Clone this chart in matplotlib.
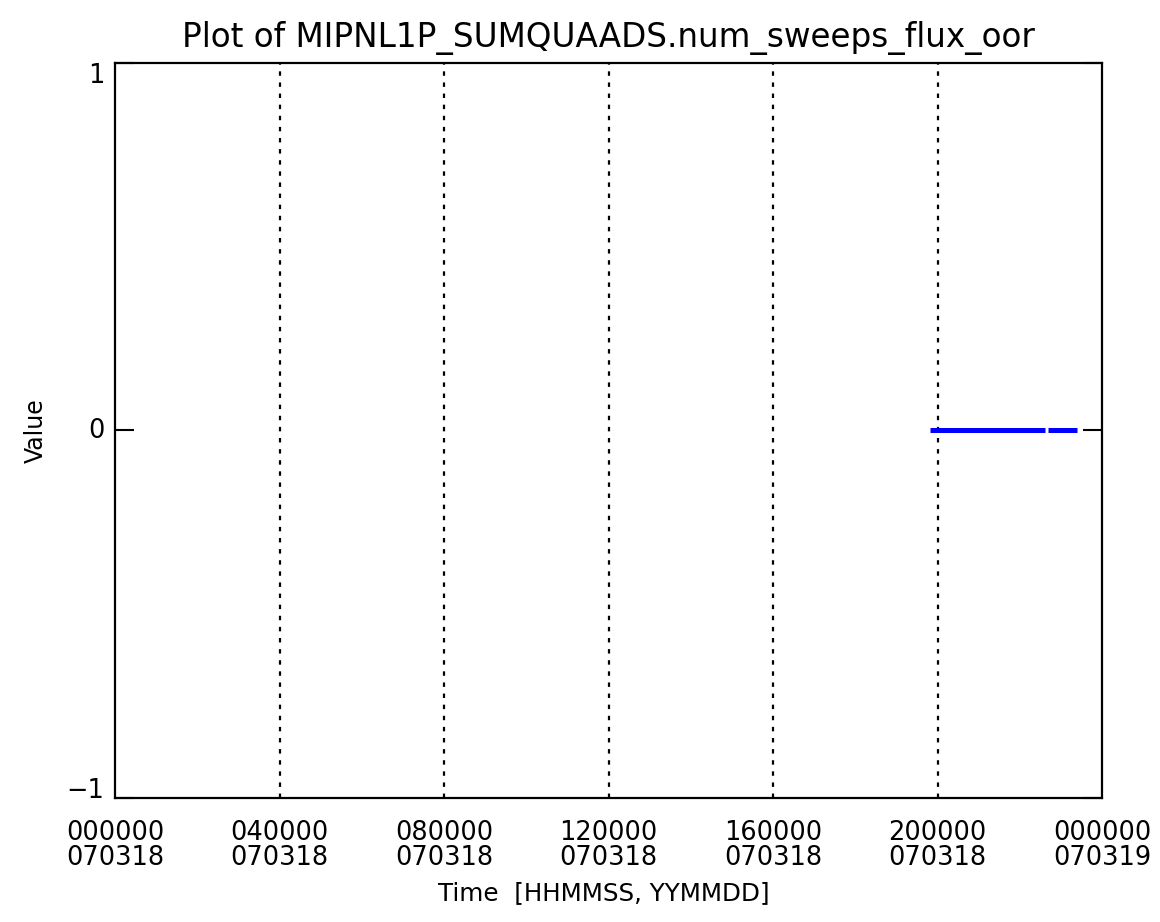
import matplotlib
matplotlib.use("Agg")
import matplotlib.pyplot as plt
from matplotlib.font_manager import FontProperties

# data (hours since 000000 070318)
seg_times = [[19.82, 22.61], [22.69, 23.39]]
seg_values = [[0, 0], [0, 0]]
tick_hours = [0, 4, 8, 12, 16, 20, 24]
tick_labels = ["000000\n070318", "040000\n070318", "080000\n070318", "120000\n070318",
               "160000\n070318", "200000\n070318", "000000\n070319"]
grid_hours = [4, 8, 12, 16, 20]
y_ticks = [-1, 0, 1]
y_ticklabels = ["\u22121", "0", "1"]
title = "Plot of MIPNL1P_SUMQUAADS.num_sweeps_flux_oor"
xlabel = "Time  [HHMMSS, YYMMDD]"
ylabel = "Value"

FAM = 'DejaVu Sans'
plt.rcParams['font.family'] = [FAM]
W, H = 1160, 922
fig = plt.figure(figsize=(W / 100, H / 100), dpi=100)
renderer = fig.canvas.get_renderer()

def metrics(s, size):
    fp = FontProperties(family=FAM, size=size)
    return renderer.get_text_width_height_descent(s, fp, ismath=False)

def fit(s, target_px):
    return 10 * target_px / metrics(s, 10)[0]

# axes box in pixels (left, right, top, bottom)
L, R, T, B = 115, 1102, 63, 798
ax = fig.add_axes([L / W, 1 - B / H, (R - L) / W, (B - T) / H])
px2pt = 72 / 100

title_fs = fit(title, 851)
tick_fs = fit("000000", 97)
xlab_fs = fit(xlabel, 332)
ylab_fs = fit(ylabel, 65)

for h in grid_hours:
    ax.axvline(h, color='black', linestyle=(0, (2.0, 3.0)), linewidth=1.6, zorder=1)

for t, v in zip(seg_times, seg_values):
    ax.plot(t, v, color='#0000ff', linewidth=3.6, solid_capstyle='butt', zorder=3)

ax.set_xlim(0, 24)
ax.set_ylim(-1, 1)

# x tick labels: first-line baseline 42 px below the axis, 25 px between baselines
_, lp_h, lp_d = metrics("lp", tick_fs)
ls = (25 - lp_d) / (lp_h - lp_d)
xpad_px = (B + 42 - (lp_h - lp_d)) - B
ax.set_xticks(tick_hours)
ax.set_xticklabels(tick_labels, fontsize=tick_fs, linespacing=ls, va='top')
ax.tick_params(axis='x', length=0, pad=xpad_px * px2pt)

ax.set_yticks(y_ticks)
ax.set_yticklabels(y_ticklabels, fontsize=tick_fs)
ax.tick_params(axis='y', direction='in', length=13.7, width=1.5, right=True, pad=7.5)
yl = ax.get_yticklabels()
yl[0].set_verticalalignment('baseline')
yl[1].set_verticalalignment('center')
yl[2].set_verticalalignment('top')

for s in ax.spines.values():
    s.set_linewidth(1.6)

ax.set_title(title, fontsize=title_fs, pad=(T - 47) * px2pt)
ax.set_xlabel(xlabel, fontsize=xlab_fs)
ax.set_ylabel(ylabel, fontsize=ylab_fs)
ax.xaxis.label.set_verticalalignment('baseline')
ax.yaxis.label.set_verticalalignment('baseline')
ax.xaxis.set_label_coords((604 - L) / (R - L), -(900 - B) / (B - T))
ax.yaxis.set_label_coords(-(L - 43) / (R - L), 0.5)

fig.savefig("out.png", dpi=100)
